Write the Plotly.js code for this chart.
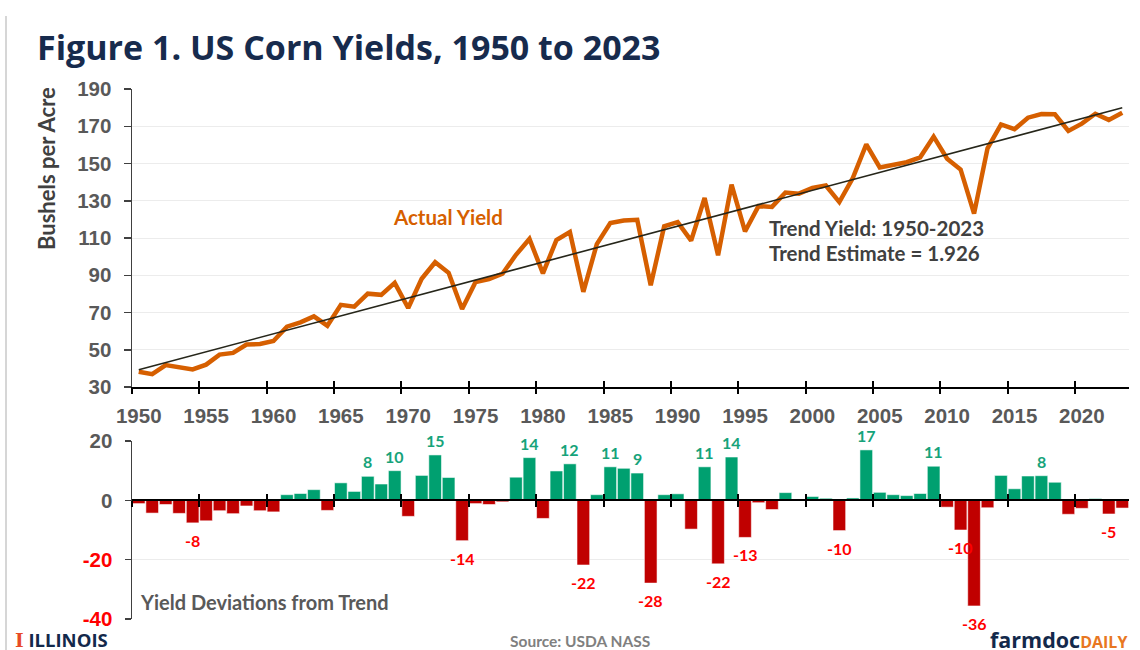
<!DOCTYPE html>
<html><head><meta charset="utf-8">
<script src="https://cdn.plot.ly/plotly-3.0.1.min.js"></script>
<style>html,body{margin:0;padding:0;background:#fff}#chart{width:1140px;height:650px}</style>
</head><body><div id="chart"></div>
<script>
const years = [1950,1951,1952,1953,1954,1955,1956,1957,1958,1959,
  1960,1961,1962,1963,1964,1965,1966,1967,1968,1969,
  1970,1971,1972,1973,1974,1975,1976,1977,1978,1979,
  1980,1981,1982,1983,1984,1985,1986,1987,1988,1989,
  1990,1991,1992,1993,1994,1995,1996,1997,1998,1999,
  2000,2001,2002,2003,2004,2005,2006,2007,2008,2009,
  2010,2011,2012,2013,2014,2015,2016,2017,2018,2019,
  2020,2021,2022,2023];
const actualYield = [38.2,36.9,41.8,40.7,39.4,42.0,47.4,48.3,52.8,53.1,
  54.7,62.4,64.7,67.9,62.9,74.1,73.1,80.1,79.5,85.9,
  72.4,88.1,97.0,91.3,71.9,86.4,88.0,90.8,101.0,109.5,
  91.0,108.9,113.2,81.1,106.7,118.0,119.4,119.8,84.6,116.3,
  118.5,108.6,131.5,100.7,138.6,113.5,127.1,126.7,134.4,133.8,
  136.9,138.2,129.3,142.2,160.3,147.9,149.1,150.7,153.3,164.4,
  152.6,146.8,123.1,158.1,171.0,168.4,174.6,176.6,176.4,167.5,
  171.4,176.7,173.4,177.3];
const deviation = [-1.1,-4.3,-1.4,-4.4,-7.6,-6.9,-3.5,-4.5,-1.9,-3.5,
  -3.9,1.9,2.3,3.6,-3.4,5.9,3.0,8.1,5.5,10.0,
  -5.4,8.4,15.3,7.7,-13.6,-1.1,-1.4,-0.5,7.8,14.4,
  -6.1,9.9,12.3,-21.8,1.9,11.3,10.8,9.2,-27.9,1.9,
  2.2,-9.7,11.3,-21.4,14.6,-12.5,-0.8,-3.1,2.6,0.1,
  1.3,0.7,-10.2,0.8,17.0,2.7,1.9,1.6,2.3,11.5,
  -2.3,-10.0,-35.6,-2.5,8.4,3.9,8.2,8.3,6.1,-4.7,
  -2.7,0.6,-4.6,-2.6];
const trendYears = [1950, 2023];
const trendYield = [39.3, 179.9];
const tickYears = [1950,1955,1960,1965,1970,1975,1980,1985,1990,1995,2000,2005,2010,2015,2020];
const yTicksTop = [30,50,70,90,110,130,150,170,190];
const yTicksBottom = [-40,-20,0,20];
const labelYears = [1954,1967,1969,1972,1974,1979,1982,1983,1985,1987,1988,1992,1993,1994,1995,2002,2004,2009,2011,2012,2017,2022];
const labelText = ["-8","8","10","15","-14","14","12","-22","11","9","-28","11","-22","14","-13","-10","17","11","-10","-36","8","-5"];

const W = 1140, H = 650;
const GREEN = '#00A070', RED = '#C00000', GREEN_T = '#16A37A', RED_T = '#FF0000';
const ORANGE = '#D65F00';
const xDom = [132/W, 1129/W];
const topDom = [1-387/H, 1-89/H];
const botDom = [1-619/H, 1-441/H];
const botRange = [-40, 20];
const zeroPos = botDom[0] + (0-botRange[0])/(botRange[1]-botRange[0])*(botDom[1]-botDom[0]);
const xRange = [years[0]-0.5, years[years.length-1]+0.5];
const boundaryTicks = tickYears.map(y => y - 0.5);
const tickFont = {family:'Liberation Sans, Arial, sans-serif', size:20.5, color:'#595959', weight:'bold'};
const labFont = 'Lato, sans-serif';

const traces = [
  {x: years, y: actualYield, xaxis:'x', yaxis:'y', type:'scatter', mode:'lines',
   line:{color:ORANGE, width:4.5}, hoverinfo:'skip', showlegend:false},
  {x: trendYears, y: trendYield, xaxis:'x', yaxis:'y', type:'scatter', mode:'lines',
   line:{color:'#26261a', width:1.6}, hoverinfo:'skip', showlegend:false},
  {x: years, y: deviation, xaxis:'x2', yaxis:'y2', type:'bar',
   marker:{color: deviation.map(v => v >= 0 ? GREEN : RED), line:{color:'rgba(255,255,255,0.55)', width:1}},
   hoverinfo:'skip', showlegend:false},
  {x: [], y: [], xaxis:'x3', yaxis:'y', type:'scatter', showlegend:false},
  {x: [], y: [], xaxis:'x4', yaxis:'y2', type:'scatter', showlegend:false},
  {x: [], y: [], xaxis:'x5', yaxis:'y', type:'scatter', showlegend:false}
];

function tickAxis(dir) {
  return {range: xRange, tickmode:'array', tickvals: boundaryTicks, ticks: dir, ticklen:6, tickwidth:2,
    tickcolor:'#000', showticklabels:false, showline:false, showgrid:false, zeroline:false, fixedrange:true};
}

const annotations = [
  {text:'Bushels per Acre', xref:'paper', yref:'paper', x:46/W, y:1-169/H, textangle:-90, showarrow:false,
   xanchor:'center', yanchor:'middle', font:{family:labFont, size:22, color:'#404040', weight:'bold'}},
  {text:'Actual Yield', xref:'paper', yref:'paper', x:391/W, y:1-217/H, showarrow:false, xanchor:'left', yanchor:'middle',
   font:{family:labFont, size:20.5, color:ORANGE, weight:'bold'}},
  {text:'Trend Yield: 1950-2023', xref:'paper', yref:'paper', x:767/W, y:1-228/H, showarrow:false, xanchor:'left', yanchor:'middle',
   font:{family:labFont, size:20.5, color:'#404040', weight:'bold'}},
  {text:'Trend Estimate = 1.926', xref:'paper', yref:'paper', x:767/W, y:1-253/H, showarrow:false, xanchor:'left', yanchor:'middle',
   font:{family:labFont, size:20.5, color:'#404040', weight:'bold'}},
  {text:'Yield Deviations from Trend', xref:'paper', yref:'paper', x:138/W, y:1-602/H, showarrow:false, xanchor:'left', yanchor:'middle',
   font:{family:labFont, size:20, color:'#595959', weight:'bold'}},
  {text:'Source: USDA NASS', xref:'paper', yref:'paper', x:580/W, y:1-641/H, showarrow:false, xanchor:'center', yanchor:'middle',
   font:{family:labFont, size:15.5, color:'#808080', weight:'bold'}},
  {text:'<span style="color:#E84A27;font-family:DejaVu Serif">I</span> ILLINOIS', xref:'paper', yref:'paper', x:13/W, y:1-639/H,
   showarrow:false, xanchor:'left', yanchor:'middle', font:{family:'Open Sans, sans-serif', size:18.5, color:'#13294B', weight:'bold'}},
  {text:'farmdoc<span style="color:#E87722;font-size:16px">DAILY</span>', xref:'paper', yref:'paper', x:1129/W, y:1-639/H,
   showarrow:false, xanchor:'right', yanchor:'middle', font:{family:'Open Sans, sans-serif', size:21.5, color:'#13294B', weight:'bold'}}
];
labelYears.forEach((ly, i) => {
  const v = deviation[years.indexOf(ly)];
  const pos = v >= 0;
  annotations.push({text: labelText[i], x: ly, y: v, xref:'x2', yref:'y2', showarrow:false,
    xanchor:'center', yanchor: pos ? 'bottom' : 'top', yshift: pos ? 3 : -6,
    font:{family:labFont, size:16, color: pos ? GREEN_T : RED_T, weight:'bold'}});
});

const layout = {
  width: W, height: H, margin:{l:0, r:0, t:0, b:0}, paper_bgcolor:'#fff', plot_bgcolor:'#fff',
  showlegend:false, hovermode:false, bargap:0.06,
  title:{text:'Figure 1. US Corn Yields, 1950 to 2023', xref:'paper', yref:'paper', x:37/W, xanchor:'left', y:1-48/H, yanchor:'middle',
    font:{family:'Open Sans, sans-serif', size:34, color:'#172B4D', weight:'bold'}},
  xaxis:{domain:xDom, range:xRange, anchor:'y', tickmode:'array', tickvals:tickYears, ticktext:tickYears.map(String),
    ticks:'', ticklabelstandoff:9,
    showline:true, linecolor:'#000', linewidth:2, showgrid:false, zeroline:false, tickfont:tickFont, fixedrange:true},
  yaxis:{domain:topDom, range:[30,190], anchor:'x', tickmode:'array', tickvals:yTicksTop,
    ticks:'outside', ticklen:7, tickwidth:1.5, tickcolor:'#404040', ticklabelstandoff:8,
    showline:true, linecolor:'#404040', linewidth:1.5, showgrid:true, gridcolor:'#ececec', gridwidth:1, zeroline:false,
    tickfont:tickFont, fixedrange:true},
  xaxis2:{domain:xDom, range:xRange, anchor:'free', position:zeroPos, tickmode:'array', tickvals:boundaryTicks,
    ticks:'outside', ticklen:6, tickwidth:2, tickcolor:'#000', showticklabels:false,
    showline:true, linecolor:'#000', linewidth:2, showgrid:false, zeroline:false, fixedrange:true},
  yaxis2:{domain:botDom, range:botRange, anchor:'x2', tickmode:'array', tickvals:yTicksBottom,
    ticktext: yTicksBottom.map(v => v < 0 ? '<span style="color:#FF0000">' + v + '</span>' : String(v)),
    ticks:'outside', ticklen:6, tickwidth:1.5, tickcolor:'#404040', ticklabelstandoff:8,
    showline:true, linecolor:'#404040', linewidth:1.5, showgrid:true, gridcolor:'#ececec', gridwidth:1, zeroline:false,
    tickfont:tickFont, fixedrange:true},
  xaxis3: Object.assign({overlaying:'x', anchor:'y'}, tickAxis('inside')),
  xaxis5: Object.assign({overlaying:'x', anchor:'y'}, tickAxis('outside')),
  xaxis4: Object.assign({overlaying:'x2', anchor:'free', position:zeroPos}, tickAxis('inside')),
  shapes:[{type:'line', xref:'paper', yref:'paper', x0:6/W, x1:6/W, y0:0, y1:1-16/H, line:{color:'#c8c8c8', width:1.5}}],
  annotations: annotations
};

Plotly.newPlot('chart', traces, layout, {displayModeBar:false, staticPlot:true});
</script></body></html>
